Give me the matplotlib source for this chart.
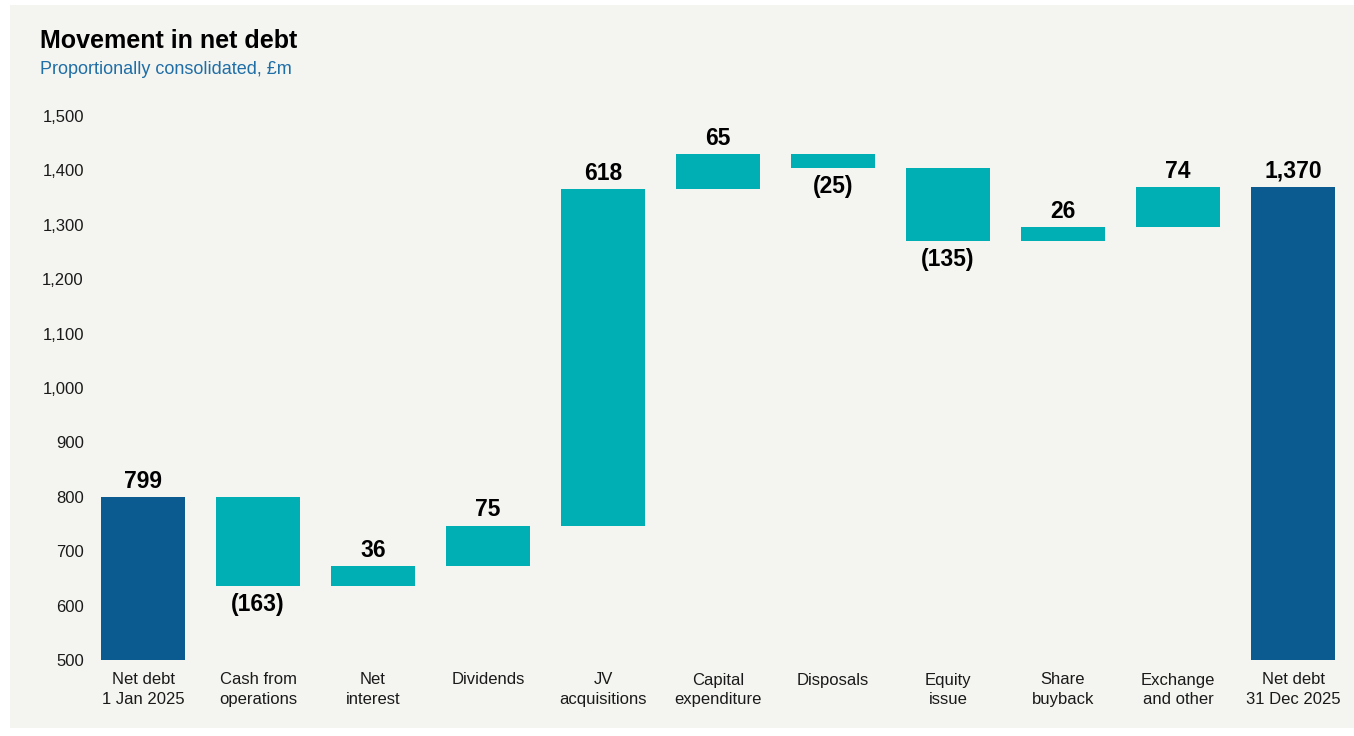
import matplotlib.pyplot as plt
from matplotlib.patches import Rectangle

# data
categories = ['Net debt\n1 Jan 2025', 'Cash from\noperations', 'Net\ninterest', 'Dividends',
              'JV\nacquisitions', 'Capital\nexpenditure', 'Disposals', 'Equity\nissue',
              'Share\nbuyback', 'Exchange\nand other', 'Net debt\n31 Dec 2025']
opening = 799
movements = [-163, 36, 75, 618, 65, -25, -135, 26, 74]
closing = 1370
y_ticks = [500, 600, 700, 800, 900, 1000, 1100, 1200, 1300, 1400, 1500]

dark_blue = '#0b5b91'
teal = '#00afb3'
panel = '#f4f4f0'

plt.rcParams['font.family'] = ['Liberation Sans', 'DejaVu Sans']

W, H = 1354, 736
fig = plt.figure(figsize=(W / 100, H / 100), dpi=100, facecolor='white')
fig.patches.append(Rectangle((10 / W, 8 / H), 1 - 10 / W, 1 - 13 / H, transform=fig.transFigure,
                             facecolor=panel, edgecolor='none', zorder=-10))

# axes placed in pixels: y 500 -> px 660, 1500 -> px 116 ; bar centres 143 + 115*i
ax_l, ax_r = 88, 1345
ax = fig.add_axes([ax_l / W, (H - 660) / H, (ax_r - ax_l) / W, 544 / H])
ax.set_facecolor('none')
ax.set_xlim((ax_l - 143) / 115, (ax_r - 143) / 115)
ax.set_ylim(500, 1500)

# waterfall
bottoms, heights, colors = [500], [opening - 500], [dark_blue]
level = opening
for m in movements:
    bottoms.append(min(level, level + m))
    heights.append(abs(m))
    colors.append(teal)
    level += m
bottoms.append(500); heights.append(closing - 500); colors.append(dark_blue)

x = list(range(len(categories)))
ax.bar(x, heights, bottom=bottoms, width=0.73, color=colors, linewidth=0)

labels = [opening] + movements + [closing]
for i, v in enumerate(labels):
    if v < 0:
        ax.annotate('({:,})'.format(-v), (i, bottoms[i]), xytext=(0, -5), textcoords='offset points',
                    ha='center', va='top', fontsize=16.5, fontweight='bold')
    else:
        ax.annotate('{:,}'.format(v), (i, bottoms[i] + heights[i]), xytext=(0, 3), textcoords='offset points',
                    ha='center', va='bottom', fontsize=16.5, fontweight='bold')

ax.set_xticks(x)
ax.set_xticklabels(categories, fontsize=12, linespacing=1.4, color='#1a1a1a')
ax.set_yticks(y_ticks)
ax.set_yticklabels(['{:,}'.format(t) for t in y_ticks], fontsize=12, color='#1a1a1a')
ax.tick_params(axis='both', length=0)
ax.tick_params(axis='x', pad=9)
ax.tick_params(axis='y', pad=3)
for s in ax.spines.values():
    s.set_visible(False)

fig.text(40 / W, 1 - 41 / H, 'Movement in net debt', fontsize=18, fontweight='bold', va='center', ha='left')
fig.text(40 / W, 1 - 70 / H, 'Proportionally consolidated, £m', fontsize=13, color='#1f6ea6',
         va='center', ha='left')

fig.savefig('out.png', dpi=100, facecolor='white')
